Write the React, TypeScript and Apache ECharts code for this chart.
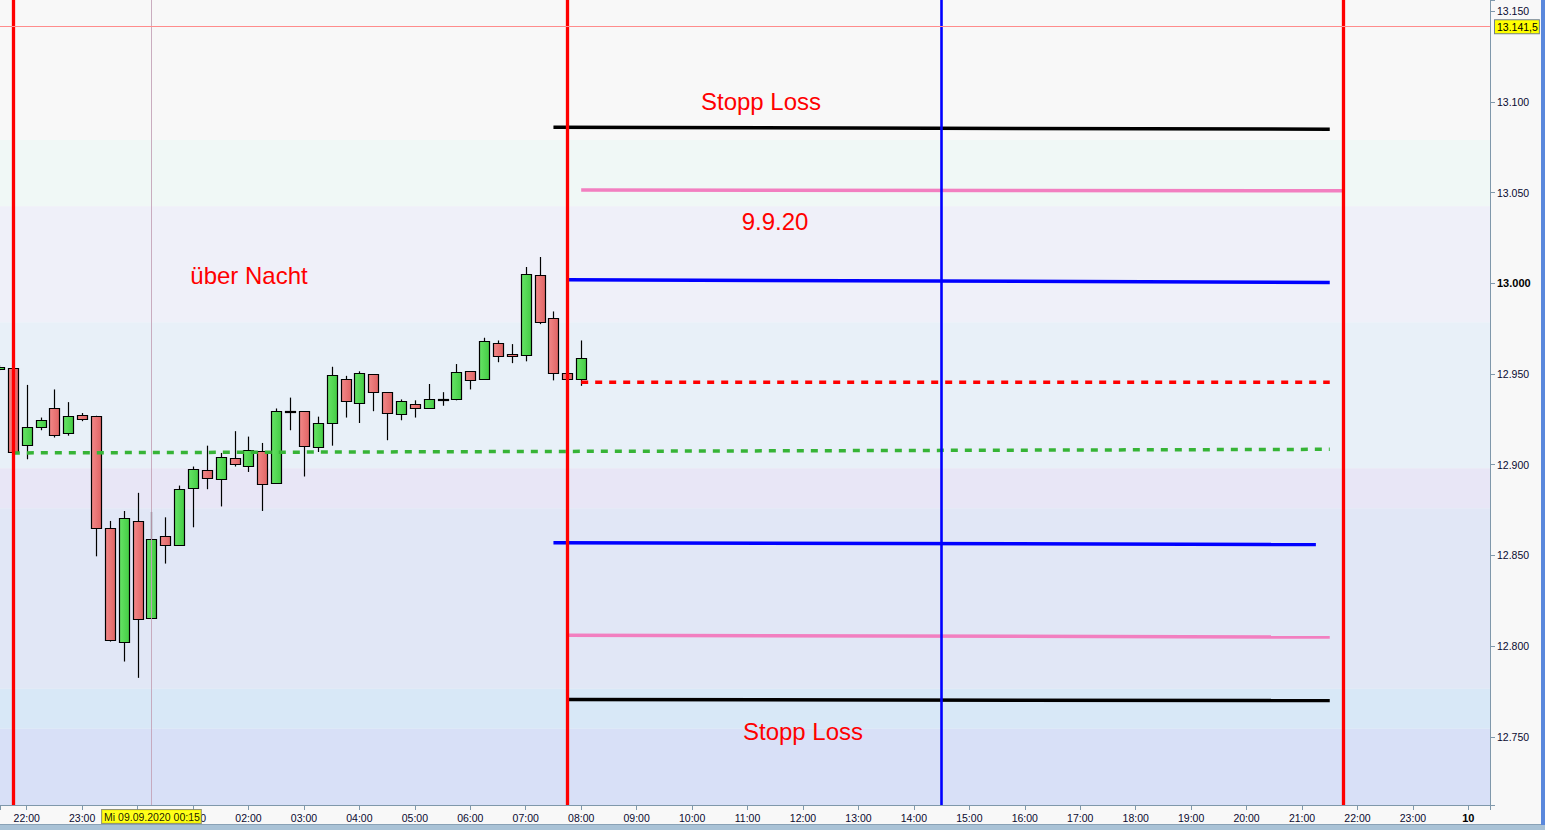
import React, { useEffect, useRef } from 'react';
import * as echarts from 'echarts';

// 15-minute candles, 08.09.2020 21:30 .. 09.09.2020 08:00
const candleTimes = [
  '21:30', '21:45', '22:00', '22:15', '22:30', '22:45', '23:00', '23:15', '23:30', '23:45',
  '00:00', '00:15', '00:30', '00:45', '01:00', '01:15', '01:30', '01:45', '02:00', '02:15',
  '02:30', '02:45', '03:00', '03:15', '03:30', '03:45', '04:00', '04:15', '04:30', '04:45',
  '05:00', '05:15', '05:30', '05:45', '06:00', '06:15', '06:30', '06:45', '07:00', '07:15',
  '07:30', '07:45', '08:00',
];
const opens = [
  12953, 12953.5, 12911, 12921, 12931, 12917.5, 12927.5, 12927, 12865, 12802,
  12869, 12815.5, 12860.5, 12855.5, 12887, 12897, 12892, 12903.5, 12899.5, 12907.5,
  12890, 12929.5, 12929.5, 12910, 12923, 12947, 12934, 12950, 12940, 12928,
  12933.5, 12931.5, 12936, 12936, 12951.5, 12947.5, 12967, 12961, 12960.5, 13004.5,
  12981, 12950.5, 12947.5,
];
const closes = [
  12954, 12907, 12921, 12924.5, 12916.5, 12927, 12925, 12865, 12803.5, 12870.5,
  12815, 12859, 12856, 12886.5, 12897.5, 12892.5, 12904, 12900.5, 12908, 12889.5,
  12929.5, 12929.5, 12910.5, 12923, 12949.5, 12935, 12950.5, 12940, 12928.5, 12935,
  12931.5, 12936, 12936, 12951, 12946.5, 12968, 12960, 12960, 13005, 12978.5,
  12950.5, 12947.5, 12959,
];
const lows = [
  12952, 12907, 12903, 12919, 12915, 12916, 12924, 12849.5, 12802.5, 12791.5,
  12782.5, 12815.5, 12845.5, 12855.5, 12865.5, 12886.5, 12877, 12899, 12896, 12874.5,
  12889.5, 12919, 12893.5, 12907, 12910.5, 12926, 12923, 12929.5, 12913.5, 12924.5,
  12926, 12931.5, 12932.5, 12935.5, 12941.5, 12947.5, 12956.5, 12956, 12957, 12977.5,
  12946.5, 12947.5, 12943.5,
];
const highs = [
  12955, 12953.5, 12944, 12926, 12941.5, 12934.5, 12928.5, 12927, 12869, 12874.5,
  12884.5, 12874, 12871, 12888.5, 12899, 12910.5, 12906.5, 12918.5, 12915.5, 12912,
  12931, 12937, 12929.5, 12926.5, 12954, 12949, 12951.5, 12950, 12940, 12936,
  12935.5, 12944.5, 12940, 12955.5, 12951.5, 12970, 12968.5, 12966.5, 13009, 13014.5,
  12984.5, 12950.5, 12968.5,
];

// Hand drawn lines: [hours relative to 09.09.2020 00:00, price]
const stopLossUpper = [[7.5, 13086], [21.5, 13085]];
const pinkUpper = [[8, 13051.5], [21.75, 13051]];
const blueUpper = [[7.75, 13002], [21.5, 13000.5]];
const redDashed = [[8, 12945.5], [21.5, 12945.5]];
const greenDashed = [[-2.25, 12906.5], [21.5, 12908.5]];
const blueLower = [[7.5, 12857], [21.25, 12856]];
const pinkLower = [[7.75, 12806], [21.5, 12805]];
const stopLossLower = [[7.75, 12770.5], [21.5, 12770]];

// vertical markers (hours)
const redVerticals = [-2.25, 7.75, 21.75];
const blueVerticals = [14.5];

// crosshair
const crossTime = 0.25;
const crossTimeLabel = 'Mi 09.09.2020 00:15';
const crossPrice = 13141.5;
const crossPriceLabel = '13.141,5';
const lastPrice = 12959;
const lastPriceLabel = '12.959,0';

// axis extents
const xMin = -2.4815;
const xMax = 24.39;
const yMin = 12712.4;
const yMax = 13156.2;

// background bands (price edges, top to bottom)
const bandEdges = [13156.2, 13079, 13042.5, 12978.5, 12898, 12876, 12776.5, 12754.5, 12712.4];
const bandColors = ['#f8f8f8', '#f0f8f6', '#eff0f9', '#e8f0f8', '#e8e6f6', '#e1e7f6', '#d8e8f7', '#d8e0f7'];

const toHours = (s: string) => {
  const [hh, mm] = s.split(':').map(Number);
  const h = hh + mm / 60;
  return hh >= 20 ? h - 24 : h;
};

const FONT = '"Liberation Sans", Arial, sans-serif';

export default function App() {
  const ref = useRef<HTMLDivElement>(null);
  useEffect(() => {
    const chart = echarts.init(ref.current!, undefined, { renderer: 'svg' });
    const candleData = candleTimes.map((t, i) => [toHours(t), opens[i], closes[i], lows[i], highs[i]]);
    const redFill = new echarts.graphic.LinearGradient(0, 0, 1, 0, [
      { offset: 0, color: '#f28888' },
      { offset: 1, color: '#e06464' },
    ]);
    const greenFill = new echarts.graphic.LinearGradient(0, 0, 1, 0, [
      { offset: 0, color: '#66e466' },
      { offset: 1, color: '#44cc44' },
    ]);
    const lineSeries = (data: number[][], color: string, width: number, dashed = false) => ({
      type: 'line',
      data,
      symbol: 'none',
      silent: true,
      z: 4,
      lineStyle: { color, width, type: dashed ? [7, 7] : 'solid', cap: 'butt' },
    });
    const textEl = (text: string, x: number, y: number) => ({
      type: 'text',
      x,
      y,
      z: 100,
      style: {
        text,
        fill: '#ff0000',
        fontSize: 24,
        fontFamily: FONT,
        align: 'center',
        verticalAlign: 'middle',
      },
    });
    const option: any = {
      animation: false,
      backgroundColor: '#f8f8f8',
      textStyle: { fontFamily: FONT },
      grid: { left: 0, right: 55, top: 0, bottom: 25, containLabel: false, outerBoundsMode: 'none' },
      xAxis: {
        type: 'value',
        min: xMin,
        max: xMax,
        splitNumber: 27,
        minInterval: 1,
        maxInterval: 1,
        splitLine: { show: false },
        axisLine: { show: true, onZero: false, lineStyle: { color: '#7f98ab', width: 1 } },
        axisTick: { show: true, length: 5, lineStyle: { color: '#7f98ab' } },
        axisLabel: {
          margin: 7,
          fontSize: 10.5,
          color: '#0a0a30',
          fontFamily: FONT,
          formatter: (v: number) => {
            const r = Math.round(v);
            if (Math.abs(v - r) > 1e-6) return '';
            if (r === 24) return '{b|10}';
            if (r === 0) return '';
            const h = ((r % 24) + 24) % 24;
            return (h < 10 ? '0' : '') + h + ':00';
          },
          rich: { b: { fontWeight: 'bold', fontSize: 11, color: '#000', fontFamily: FONT } },
        },
      },
      yAxis: {
        type: 'value',
        position: 'right',
        min: yMin,
        max: yMax,
        splitNumber: 9,
        minInterval: 50,
        maxInterval: 50,
        scale: true,
        splitLine: { show: false },
        axisLine: { show: true, onZero: false, lineStyle: { color: '#7f98ab', width: 1 } },
        axisTick: { show: true, length: 5, lineStyle: { color: '#7f98ab' } },
        axisLabel: {
          margin: 7,
          fontSize: 10.5,
          color: '#0a0a30',
          fontFamily: FONT,
          formatter: (v: number) => {
            const r = Math.round(v);
            if (Math.abs(v - r) > 1e-6 || r % 50 !== 0) return '';
            const s = String(r);
            const txt = s.slice(0, s.length - 3) + '.' + s.slice(s.length - 3);
            return r === 13000 ? '{b|' + txt + '}' : txt;
          },
          rich: { b: { fontWeight: 'bold', fontSize: 11, color: '#000', fontFamily: FONT } },
        },
      },
      series: [
        {
          type: 'line',
          data: [],
          silent: true,
          z: 1,
          markArea: {
            silent: true,
            data: bandColors.map((c, i) => [
              { yAxis: bandEdges[i], itemStyle: { color: c } },
              { yAxis: bandEdges[i + 1] },
            ]),
          },
        },
        {
          type: 'custom',
          z: 3,
          clip: true,
          silent: true,
          data: candleData,
          encode: { x: 0, y: [1, 2, 3, 4] },
          renderItem: (_p: any, api: any) => {
            const t = api.value(0);
            const o = api.value(1);
            const c = api.value(2);
            const l = api.value(3);
            const h = api.value(4);
            const pO = api.coord([t, o]);
            const pC = api.coord([t, c]);
            const pL = api.coord([t, l]);
            const pH = api.coord([t, h]);
            const x = Math.round(pO[0]) + 0.5;
            const top = Math.round(Math.min(pO[1], pC[1])) + 0.5;
            const bot = Math.round(Math.max(pO[1], pC[1])) + 0.5;
            const up = c >= o;
            return {
              type: 'group',
              children: [
                {
                  type: 'line',
                  shape: { x1: x, y1: pH[1], x2: x, y2: pL[1] },
                  style: { stroke: '#000', lineWidth: 1.2 },
                },
                {
                  type: 'rect',
                  shape: { x: x - 5, y: top, width: 10, height: Math.max(bot - top, 1) },
                  style: { fill: up ? greenFill : redFill, stroke: '#000', lineWidth: 1.2 },
                },
              ],
            };
          },
        },
        lineSeries(greenDashed, '#36b436', 3.5, true),
        lineSeries(redDashed, '#ff0000', 3.5, true),
        lineSeries(stopLossUpper, '#000000', 3.5),
        lineSeries(pinkUpper, '#f27fc0', 3.5),
        lineSeries(blueUpper, '#0000ff', 3.5),
        lineSeries(blueLower, '#0000ff', 3.5),
        lineSeries(pinkLower, '#f27fc0', 3.5),
        lineSeries(stopLossLower, '#000000', 3.5),
        {
          type: 'line',
          data: [],
          silent: true,
          z: 5,
          markLine: {
            silent: true,
            symbol: 'none',
            animation: false,
            label: { show: false },
            data: [
              ...redVerticals.map((v) => ({ xAxis: v, lineStyle: { color: '#ff0000', width: 3.3, type: 'solid' } })),
              ...blueVerticals.map((v) => ({ xAxis: v, lineStyle: { color: '#0000ff', width: 2.6, type: 'solid' } })),
            ],
          },
        },
        {
          type: 'line',
          data: [],
          silent: true,
          z: 6,
          markLine: {
            silent: true,
            symbol: 'none',
            animation: false,
            data: [
              {
                xAxis: crossTime,
                lineStyle: { color: '#c4a4b8', width: 1, type: 'solid', opacity: 0.9 },
                label: {
                  show: true,
                  position: 'start',
                  distance: 5,
                  formatter: crossTimeLabel,
                  fontSize: 10.5,
                  fontFamily: FONT,
                  color: '#000',
                  backgroundColor: '#ffff00',
                  borderColor: '#8a8a60',
                  borderWidth: 1,
                  padding: [1, 1, 1, 2],
                },
              },
              {
                yAxis: crossPrice,
                lineStyle: { color: '#ff8c8c', width: 1, type: 'solid' },
                label: {
                  show: true,
                  position: 'end',
                  distance: 5,
                  formatter: crossPriceLabel,
                  fontSize: 10.5,
                  fontFamily: FONT,
                  color: '#000',
                  backgroundColor: '#ffff00',
                  borderColor: '#6f808c',
                  borderWidth: 1,
                  padding: [1, 1, 1, 2],
                },
              },
              {
                yAxis: lastPrice,
                lineStyle: { color: '#ff8c8c', width: 1, opacity: 0 },
                label: {
                  show: true,
                  position: 'end',
                  distance: 5,
                  formatter: lastPriceLabel,
                  fontSize: 10.5,
                  fontFamily: FONT,
                  color: '#000',
                  backgroundColor: '#ffc800',
                  borderColor: '#6f808c',
                  borderWidth: 1,
                  padding: [1, 1, 1, 2],
                },
              },
            ],
          },
        },
      ],
      graphic: [
        textEl('Stopp Loss', 761, 101),
        textEl('9.9.20', 775, 221),
        textEl('über Nacht', 249, 275),
        textEl('Stopp Loss', 803, 731),
        { type: 'rect', z: 100, shape: { x: 0, y: 825, width: 1545, height: 5 }, style: { fill: '#a9c2d6' } },
        { type: 'rect', z: 100, shape: { x: 0, y: 824, width: 1545, height: 1 }, style: { fill: '#8aa2b6' } },
        { type: 'rect', z: 101, shape: { x: 1541, y: 0, width: 4, height: 825 }, style: { fill: '#5a88dc' } },
      ],
    };
    chart.setOption(option);
    return () => chart.dispose();
  }, []);
  return <div ref={ref} style={{ position: 'fixed', left: 0, top: 0, width: 1545, height: 830 }} />;
}
